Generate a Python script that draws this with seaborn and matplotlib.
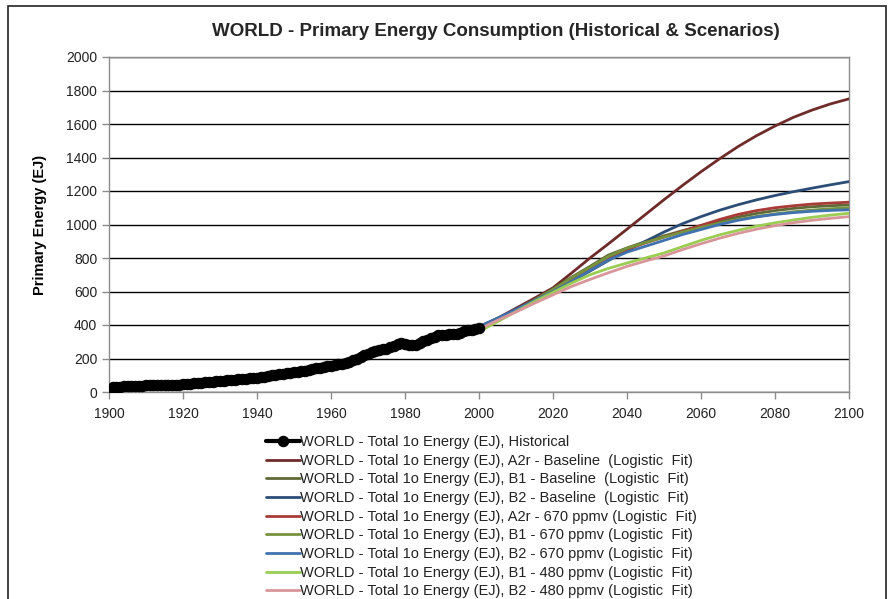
import numpy as np
import pandas as pd
import matplotlib
matplotlib.use("Agg")
import matplotlib.pyplot as plt
import seaborn as sns
from matplotlib.patches import Rectangle

# ---------------- data ----------------
hist_years = list(range(1900, 2001))
hist_values = [
    0,
    30, 31, 32, 33, 34, 35, 36, 37, 38, 39,
    40, 40, 41, 41, 42, 42, 43, 44, 44, 45,
    47, 49, 51, 53, 55, 57, 59, 61, 63, 65,
    67, 69, 71, 73, 75, 77, 79, 81, 83, 85,
    88, 92, 96, 100, 103, 107, 110, 113, 116, 119,
    122, 125, 128, 132, 136, 141, 145, 149, 153, 157,
    161, 165, 170, 175, 181, 190, 199, 210, 220, 228,
    238, 247, 252, 254, 256, 266, 276, 288, 291, 286,
    281, 280, 282, 292, 302, 312, 320, 330, 338, 341,
    343, 344, 346, 348, 355, 363, 370, 372, 378, 385,
]

scen_years = list(range(2000, 2101, 5))
a2r_base = [385, 440, 500, 560, 622, 710, 800, 885, 972, 1060, 1148,
            1233, 1315, 1392, 1465, 1530, 1588, 1640, 1683, 1720, 1750]
b1_base = [380, 435, 490, 550, 615, 685, 750, 818, 860, 898, 932,
           963, 992, 1018, 1045, 1066, 1083, 1096, 1106, 1112, 1117]
b2_base = [390, 440, 490, 545, 600, 660, 722, 785, 845, 900, 955,
           1005, 1047, 1085, 1118, 1147, 1173, 1196, 1217, 1237, 1256]
a2r_670 = [385, 435, 490, 548, 608, 672, 738, 800, 852, 890, 925,
           960, 995, 1030, 1060, 1083, 1100, 1112, 1122, 1128, 1133]
b1_670 = [365, 425, 485, 548, 612, 680, 745, 810, 858, 893, 925,
          955, 983, 1008, 1030, 1048, 1063, 1076, 1086, 1094, 1100]
b2_670 = [390, 440, 493, 546, 600, 660, 725, 788, 835, 870, 905,
          940, 970, 1000, 1025, 1045, 1060, 1071, 1079, 1084, 1088]
b1_480 = [360, 420, 480, 540, 595, 650, 700, 738, 770, 800, 830,
          868, 905, 938, 965, 990, 1010, 1027, 1043, 1056, 1067]
b2_480 = [375, 428, 478, 530, 580, 630, 672, 712, 750, 782, 812,
          850, 885, 918, 947, 972, 993, 1011, 1025, 1037, 1047]

prefix = "WORLD - Total 1o Energy (EJ), "
hist_label = prefix + "Historical"
scen_labels = [
    prefix + "A2r - Baseline  (Logistic  Fit)",
    prefix + "B1 - Baseline  (Logistic  Fit)",
    prefix + "B2 - Baseline  (Logistic  Fit)",
    prefix + "A2r - 670 ppmv (Logistic  Fit)",
    prefix + "B1 - 670 ppmv (Logistic  Fit)",
    prefix + "B2 - 670 ppmv (Logistic  Fit)",
    prefix + "B1 - 480 ppmv (Logistic  Fit)",
    prefix + "B2 - 480 ppmv (Logistic  Fit)",
]
scen_series = [a2r_base, b1_base, b2_base, a2r_670, b1_670, b2_670, b1_480, b2_480]
scen_colors = ["#6E2B2A", "#5E6A38", "#2C4D75", "#A83A38",
               "#77933C", "#3F72AE", "#9ACD52", "#D9969A"]

# ---------------- figure ----------------
sns.set_theme(style="white")
plt.rcParams["font.family"] = ["Liberation Sans", "DejaVu Sans"]

fig = plt.figure(figsize=(8.94, 5.99), dpi=100)
ax = fig.add_axes([109 / 894, 1 - 392 / 599, 740 / 894, 335 / 599])

# outer chart border
fig.patches.append(Rectangle((8 / 894, -0.05), 878 / 894, 1 - 6 / 599 + 0.05,
                             transform=fig.transFigure, fill=False,
                             edgecolor="#222222", linewidth=1.2, zorder=0))

hist_df = pd.DataFrame({"year": hist_years, "value": hist_values})
sns.lineplot(data=hist_df, x="year", y="value", ax=ax, color="black",
             lw=3, marker="o", markersize=7.5, markeredgecolor="black",
             label=hist_label, zorder=5)

scen_df = pd.concat([
    pd.DataFrame({"year": scen_years, "value": vals, "series": lab})
    for lab, vals in zip(scen_labels, scen_series)
])
sns.lineplot(data=scen_df, x="year", y="value", hue="series",
             hue_order=scen_labels, palette=dict(zip(scen_labels, scen_colors)),
             lw=2, ax=ax, zorder=4)

ax.set_xlim(1900, 2100)
ax.set_ylim(0, 2000)
ax.set_xticks(range(1900, 2101, 20))
ax.set_yticks(range(0, 2001, 200))
ax.yaxis.grid(True, color="black", lw=1)
ax.xaxis.grid(False)
for s in ax.spines.values():
    s.set_color("#8C8C8C")
    s.set_linewidth(1)
ax.tick_params(axis="both", which="both", direction="out", length=5,
               width=1, color="#8C8C8C", labelsize=10, labelcolor="#222222",
               bottom=True, left=True)
ax.tick_params(axis="x", pad=6)
ax.set_xlabel("")
ax.set_ylabel("Primary Energy (EJ)", fontsize=10.5, fontweight="bold",
              color="black", labelpad=14)

fig.text(496 / 894, 1 - 32 / 599,
         "WORLD - Primary Energy Consumption (Historical & Scenarios)",
         ha="center", va="center", fontsize=13.5, fontweight="bold")

handles, labels = ax.get_legend_handles_labels()
ax.legend(handles, labels, loc="upper left",
          bbox_to_anchor=(266 / 894, 1 - 435 / 599),
          bbox_transform=fig.transFigure, frameon=False, fontsize=10.5,
          handlelength=2.3, handletextpad=0.05, labelspacing=0.32,
          borderpad=0, borderaxespad=0, labelcolor="#222222")

fig.savefig("out.png", dpi=100, facecolor="white")
